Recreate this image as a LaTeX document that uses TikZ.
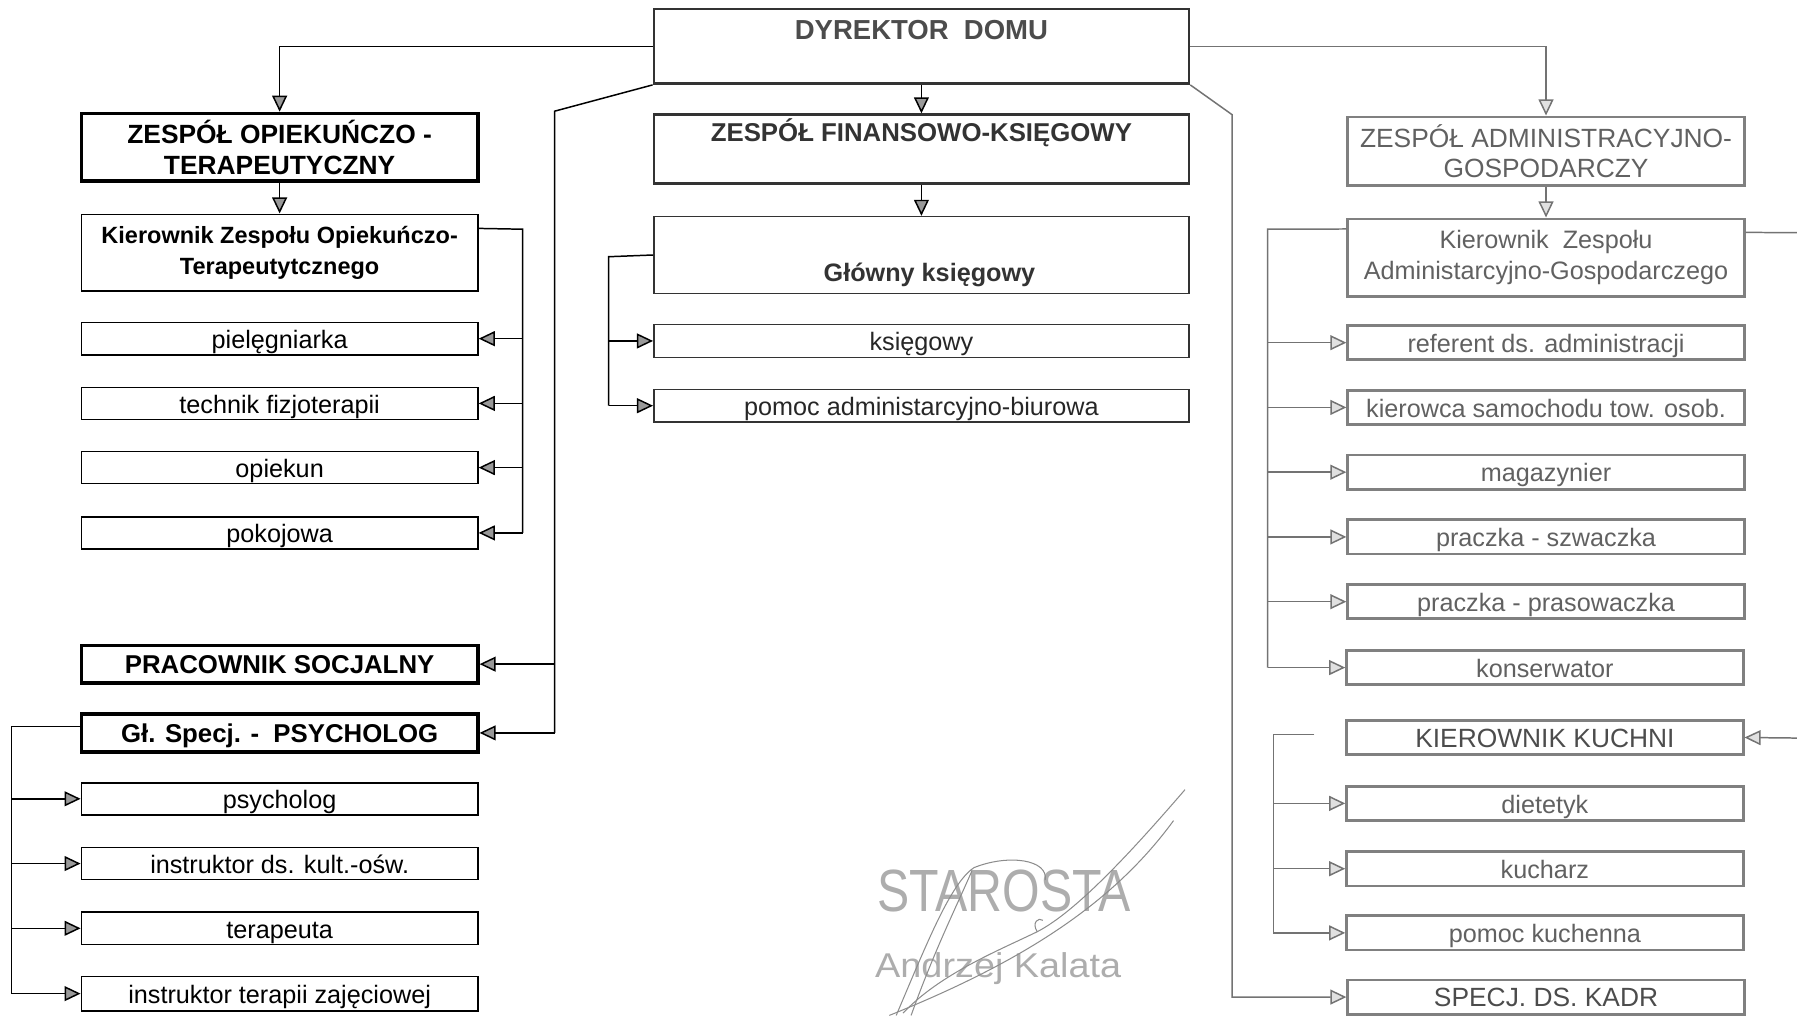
\documentclass[tikz,border=0pt]{standalone}
\usepackage{fontspec}
\setmainfont{Liberation Sans}
\usetikzlibrary{arrows.meta}
\begin{document}
\begin{tikzpicture}[x=1pt,y=-1pt,
  box/.style={draw=black, rectangle, inner sep=1pt, line width=1.4pt, minimum width=346pt, minimum height=28pt, font=\fontsize{22}{26}\selectfont, align=center, text=black, text height=17pt, text depth=0pt},
  multi/.style={text height={}, text depth={}},
  thickbox/.style={box, line width=3pt, font=\bfseries\fontsize{22.5}{27}\selectfont},
  midbox/.style={box, draw=black!80, text=black!85, minimum width=467pt},
  rbox/.style={box, draw=black!50, line width=2.4pt, text=black!62, minimum width=346pt, minimum height=30pt},
  conn/.style={line width=1.3pt, draw=black},
  rconn/.style={line width=1.3pt, draw=black!55},
  arr/.style={conn, -{Triangle[length=14pt,width=13pt,fill=black!40]}},
  rarr/.style={rconn, -{Triangle[length=14pt,width=13pt,fill=black!12]}},
  sig/.style={draw=black!45, line width=0.9pt},
  sigtext/.style={text=black!32, inner sep=0pt}
]
\useasboundingbox (0,0) rectangle (1568,886);

% ---------- left column ----------
\node[thickbox, multi, minimum height=59pt, font=\bfseries\fontsize{23}{27}\selectfont] (zo) at (244,128.5) {ZESPÓŁ OPIEKUŃCZO -\\TERAPEUTYCZNY};
\node[box, multi, minimum height=67pt, font=\bfseries\fontsize{20.5}{27}\selectfont] (kzo) at (244,220.5) {Kierownik Zespołu Opiekuńczo-\\Terapeutytcznego};
\node[box] (piel) at (244,295.5) {pielęgniarka};
\node[box] (tech) at (244,352) {technik fizjoterapii};
\node[box] (opie) at (244,408) {opiekun};
\node[box] (poko) at (244,465) {pokojowa};
\node[thickbox, minimum height=33pt] (ps) at (244,579.5) {PRACOWNIK SOCJALNY};
\node[thickbox, minimum height=33pt] (psy) at (244,639.5) {Gł. Specj. -~~PSYCHOLOG};
\node[box] (psl) at (244,697) {psycholog};
\node[box] (inkult) at (244,753.5) {instruktor ds. kult.-ośw.};
\node[box] (tera) at (244,810) {terapeuta};
\node[box, minimum height=30pt] (inzaj) at (244,867) {instruktor terapii zajęciowej};

% ---------- middle column ----------
\node[midbox, minimum height=65pt, line width=2.2pt] (dyr) at (804,40.5) {};
\node[font=\bfseries\fontsize{24}{28}\selectfont, text=black!70] (dyrt) at (804,26) {DYREKTOR~~DOMU};
\node[midbox, minimum height=60pt, line width=2.2pt] (zfk) at (804,130) {};
\node[font=\bfseries\fontsize{22.5}{27}\selectfont, text=black!80] (zfkt) at (804,116) {ZESPÓŁ FINANSOWO-KSIĘGOWY};
\node[midbox, minimum height=67pt] (glk) at (804,222.5) {};
\node[font=\bfseries\fontsize{22}{26}\selectfont, text=black!80] (glkt) at (811,240) {Główny księgowy};
\node[midbox, minimum height=29pt] (ksie) at (804,297.5) {księgowy};
\node[midbox] (pomab) at (804,354) {pomoc administarcyjno-biurowa};

% ---------- right column ----------
\node[rbox, multi, minimum height=60pt, font=\fontsize{23}{26}\selectfont] (zag) at (1349,132) {ZESPÓŁ ADMINISTRACYJNO-\\GOSPODARCZY};
\node[rbox, multi, minimum height=68pt, font=\fontsize{22}{27}\selectfont] (kzag) at (1349,225) {Kierownik~~Zespołu\\Administarcyjno-Gospodarczego};
\node[rbox] (ref) at (1349,299) {referent ds. administracji};
\node[rbox] (kier) at (1349,355.5) {kierowca samochodu tow. osob.};
\node[rbox] (mag) at (1349,412) {magazynier};
\node[rbox] (prsz) at (1349,468.5) {praczka - szwaczka};
\node[rbox] (prpr) at (1349,525) {praczka - prasowaczka};
\node[rbox] (kons) at (1348,582.5) {konserwator};
\node[rbox, font=\fontsize{23}{26}\selectfont, text=black!70] (kuch) at (1348,643.5) {KIEROWNIK KUCHNI};
\node[rbox] (diet) at (1348,701) {dietetyk};
\node[rbox] (kucharz) at (1348,758) {kucharz};
\node[rbox] (pomk) at (1348,814) {pomoc kuchenna};
\node[rbox, font=\fontsize{23}{26}\selectfont, text=black!70] (kadr) at (1349,870) {SPECJ. DS. KADR};

% ---------- connectors: left ----------
\draw[arr] (dyr.west) -| (zo.north);
\draw[arr] (zo.south) -- (kzo.north);
\coordinate (lb) at (456,200);
\draw[conn] ([yshift=-13pt]kzo.north east) -- (lb) -- (lb |- poko.east);
\foreach \n in {piel,tech,opie,poko} \draw[arr] (lb |- \n.east) -- (\n.east);

\coordinate (dl) at (484,97);
\draw[conn] (dyr.south west) -- (dl) -- (dl |- psy.east);
\draw[arr] (dl |- ps.east) -- (ps.east);
\draw[arr] (dl |- psy.east) -- (psy.east);

\coordinate (pl) at (10,634);
\draw[conn] ([yshift=5.5pt]psy.west) -- (pl) -- (pl |- inzaj.west);
\foreach \n in {psl,inkult,tera,inzaj} \draw[arr] (pl |- \n.west) -- (\n.west);

% ---------- connectors: middle ----------
\draw[arr] (dyr.south) -- (zfk.north);
\draw[arr] (zfk.south) -- (glk.north);
\coordinate (ml) at (531,224);
\draw[conn] (glk.west) -- (ml) -- (ml |- pomab.west);
\foreach \n in {ksie,pomab} \draw[arr] (ml |- \n.west) -- (\n.west);

% ---------- connectors: right ----------
\draw[rarr] (dyr.east) -| (zag.north);
\coordinate (dr) at (1075,100);
\draw[rarr] (dyr.south east) -- (dr) |- (kadr.west);
\draw[rarr] (zag.south) -- (kzag.north);
\coordinate (rl) at (1106,200);
\draw[rconn] ([yshift=-10pt]kzag.north west) -- (rl) -- (rl |- kons.west);
\foreach \n in {ref,kier,mag,prsz,prpr,kons} \draw[rarr] (rl |- \n.west) -- (\n.west);
\coordinate (re1) at (1568,203);
\draw[rconn] ([yshift=-13pt]kzag.north east) -- (re1);
\coordinate (re2) at (1568,644);
\draw[rarr] (re2) -- (kuch.east);
\coordinate (kl) at (1111,641);
\draw[rconn] ([xshift=-27pt,yshift=2.5pt]kuch.west) -- (kl) -- (kl |- pomk.west);
\foreach \n in {diet,kucharz,pomk} \draw[rarr] (kl |- \n.west) -- (\n.west);

% ---------- signature ----------
\node[sigtext, font=\fontsize{52}{52}\selectfont] (star) at (876,777) {\scalebox{0.81}[1]{STAROSTA}};
\node[sigtext, font=\fontsize{30}{30}\selectfont] (kal) at (871,845) {\scalebox{1.1}[1]{Andrzej Kalata}};
\draw[sig] (1034,689) .. controls (990,740) and (940,795) .. (905,813) .. controls (870,830) and (820,850) .. (788,884);
\draw[sig] (1024,716) .. controls (970,790) and (890,840) .. (776,886);
\draw[sig] (782,886) .. controls (810,820) and (830,770) .. (850,757) .. controls (880,745) and (915,750) .. (912,768);
\draw[sig] (795,886) .. controls (815,830) and (835,790) .. (848,760);
\draw[sig] (905,813) .. controls (900,805) and (906,800) .. (910,803);
\end{tikzpicture}
\end{document}
